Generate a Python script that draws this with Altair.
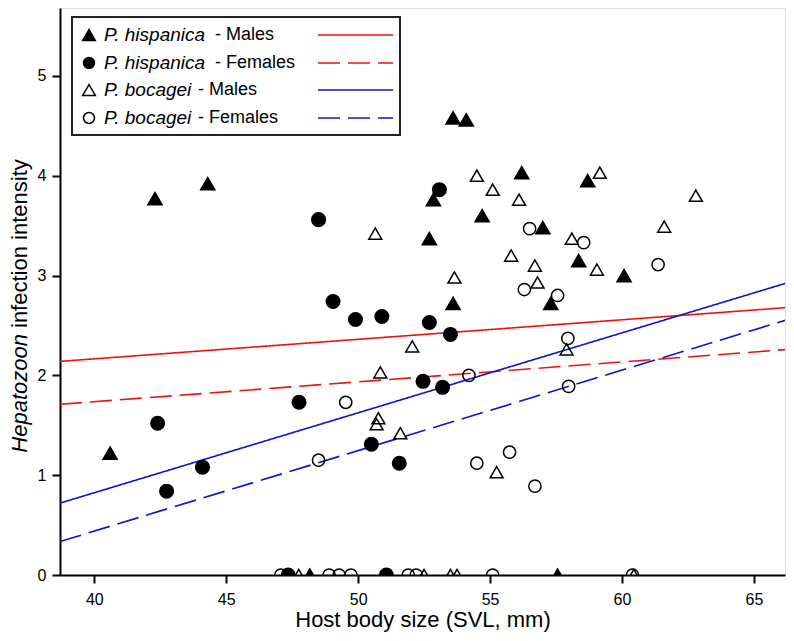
import altair as alt
import pandas as pd

# ---------------- data ----------------
groups = ["P. hispanica - Males", "P. hispanica - Females",
          "P. bocagei - Males", "P. bocagei - Females"]

hm_x = [40.6, 42.3, 44.3, 52.7, 52.85, 53.6, 54.1, 54.7, 53.6, 56.2, 57.0, 58.7,
        58.36, 57.3, 60.08, 48.17, 57.56]
hm_y = [1.22, 3.77, 3.92, 3.37, 3.76, 4.58, 4.56, 3.6, 2.72, 4.03, 3.48, 3.95,
        3.15, 2.72, 3.0, 0, 0]

hf_x = [42.4, 42.74, 44.1, 47.76, 48.5, 53.08, 49.05, 49.9, 50.9, 52.7, 53.5,
        52.46, 53.2, 50.5, 51.56, 47.35, 51.07]
hf_y = [1.52, 0.84, 1.08, 1.73, 3.56, 3.86, 2.74, 2.56, 2.59, 2.53, 2.41,
        1.94, 1.88, 1.31, 1.12, 0, 0]

bm_x = [54.5, 55.1, 56.1, 50.65, 55.8, 56.7, 56.8, 53.65, 59.16, 62.8, 61.6, 58.1,
        59.05, 52.05, 50.84, 57.9, 50.77, 50.7, 51.6, 55.25, 47.75, 52.5, 53.5,
        53.75, 60.45]
bm_y = [4.0, 3.86, 3.76, 3.42, 3.2, 3.1, 2.93, 2.98, 4.03, 3.8, 3.49, 3.37,
        3.06, 2.29, 2.03, 2.26, 1.57, 1.51, 1.42, 1.03, 0, 0, 0, 0, 0]

bf_x = [56.5, 56.3, 58.55, 61.37, 57.56, 57.95, 57.98, 54.2, 49.53, 48.5, 54.5,
        55.74, 56.7, 47.07, 48.9, 49.28, 49.73, 51.9, 52.2, 55.1, 60.4]
bf_y = [3.47, 2.86, 3.33, 3.11, 2.8, 2.37, 1.89, 2.0, 1.73, 1.15, 1.12,
        1.23, 0.89, 0, 0, 0, 0, 0, 0, 0, 0]

# regression lines: value at left and right edge of the x range
line_x0 = 38.7
line_x1 = 66.3
line_y0 = [2.14, 1.71, 0.72, 0.335]
line_y1 = [2.68, 2.26, 2.93, 2.56]

species_it = ["P. hispanica", "P. hispanica", "P. bocagei", "P. bocagei"]
sex_lab = ["- Males", "- Females", "- Males", "- Females"]

x_ticks = [40, 45, 50, 55, 60, 65]
y_ticks = [0, 1, 2, 3, 4, 5]

# ---------------- styling ----------------
FONT = "Liberation Sans"
W, H = 725, 567
XDOM = [38.7, 66.18]
YDOM = [0, 5.68]
shapes = ["triangle-up", "circle", "triangle-up", "circle"]
fills = ["black", "black", "transparent", "transparent"]
sizes = [200, 150, 200, 150]
colors = ["#ee1111", "#ee1111", "#1111cc", "#1111cc"]
dashes = [[1, 0], [22, 8], [1, 0], [22, 8]]

pts = pd.concat([
    pd.DataFrame({"svl": xs, "intensity": ys, "group": g})
    for xs, ys, g in zip([hm_x, hf_x, bm_x, bf_x], [hm_y, hf_y, bm_y, bf_y], groups)
])

lines = pd.DataFrame({
    "group": [g for g in groups for _ in range(2)],
    "svl": [v for _ in groups for v in (line_x0, line_x1)],
    "intensity": [v for a, b in zip(line_y0, line_y1) for v in (a, b)],
})

xscale = alt.Scale(domain=XDOM, nice=False, zero=False)
yscale = alt.Scale(domain=YDOM, nice=False, zero=False)
xaxis = alt.Axis(values=x_ticks, title="Host body size (SVL, mm)", grid=False,
                 tickSize=8, tickWidth=2, domainWidth=2, domainColor="black",
                 tickColor="black", labelFontSize=16, labelColor="black",
                 labelFont=FONT, titleFont=FONT, titleFontSize=22,
                 titleFontWeight="normal", titleColor="black", labelPadding=8,
                 titlePadding=2, format="d")
yaxis = alt.Axis(values=y_ticks, title=None, grid=False, tickSize=8, tickWidth=2,
                 domainWidth=2, domainColor="black", tickColor="black",
                 labelFontSize=16, labelColor="black", labelFont=FONT,
                 labelPadding=6, format="d")

line_layer = alt.Chart(lines).mark_line(strokeWidth=1.6, clip=True).encode(
    x=alt.X("svl:Q", scale=xscale, axis=xaxis),
    y=alt.Y("intensity:Q", scale=yscale, axis=yaxis),
    color=alt.Color("group:N", scale=alt.Scale(domain=groups, range=colors), legend=None),
    strokeDash=alt.StrokeDash("group:N", scale=alt.Scale(domain=groups, range=dashes), legend=None),
    detail="group:N",
)

point_layer = alt.Chart(pts).mark_point(filled=True, clip=True, opacity=1,
                                         stroke="black", strokeWidth=1.5).encode(
    x=alt.X("svl:Q", scale=xscale),
    y=alt.Y("intensity:Q", scale=yscale),
    shape=alt.Shape("group:N", scale=alt.Scale(domain=groups, range=shapes), legend=None),
    fill=alt.Fill("group:N", scale=alt.Scale(domain=groups, range=fills), legend=None),
    size=alt.Size("group:N", scale=alt.Scale(domain=groups, range=sizes), legend=None),
)

layers = [line_layer, point_layer]

# ---- custom legend box (pixel positions inside the plot area) ----
legend_df = pd.DataFrame({"k": [0]})
box = alt.Chart(legend_df).mark_rect(fill="white", stroke="#222222", strokeWidth=2).encode(
    x=alt.value(12), x2=alt.value(340), y=alt.value(9), y2=alt.value(127))
layers.append(box)

row_y = [27, 55, 82, 110]
sex_x = [155, 155, 138, 138]
for i in range(4):
    row = pd.DataFrame({"sp": [species_it[i]], "sex": [sex_lab[i]]})
    base = alt.Chart(row)
    sym = base.mark_point(filled=True, opacity=1, stroke="black", strokeWidth=1.5,
                          shape=shapes[i], fill=fills[i], size=sizes[i] * 0.8).encode(
        x=alt.value(29), y=alt.value(row_y[i]))
    t1 = base.mark_text(font=FONT, fontSize=19, fontStyle="italic", align="left",
                        baseline="middle", color="black").encode(
        x=alt.value(44), y=alt.value(row_y[i]), text="sp:N")
    t2 = base.mark_text(font=FONT, fontSize=18, align="left", baseline="middle",
                        color="black").encode(
        x=alt.value(sex_x[i]), y=alt.value(row_y[i]), text="sex:N")
    ln = base.mark_rule(color=colors[i], strokeWidth=1.6, strokeDash=dashes[i]).encode(
        x=alt.value(258), x2=alt.value(333), y=alt.value(row_y[i]))
    layers += [sym, t1, t2, ln]

# ---- y axis title with italic genus ----
yt = pd.DataFrame({"a": ["Hepatozoon"], "b": ["infection intensity"]})
yt1 = alt.Chart(yt).mark_text(font=FONT, fontSize=22, fontStyle="italic", angle=270,
                              align="right", baseline="alphabetic", color="black").encode(
    x=alt.value(-33), y=alt.value(326), text="a:N")
yt2 = alt.Chart(yt).mark_text(font=FONT, fontSize=22, angle=270, align="left",
                              baseline="alphabetic", color="black").encode(
    x=alt.value(-33), y=alt.value(320), text="b:N")
layers += [yt1, yt2]

chart = alt.layer(*layers).properties(
    width=W, height=H,
    autosize=alt.AutoSizeParams(type="none"),
    padding={"left": 52, "top": 0, "right": 1, "bottom": 58},
).configure_view(stroke="black", strokeWidth=2).configure(background="white")

chart.save("out.html", embed_options={"renderer": "svg", "actions": False})
